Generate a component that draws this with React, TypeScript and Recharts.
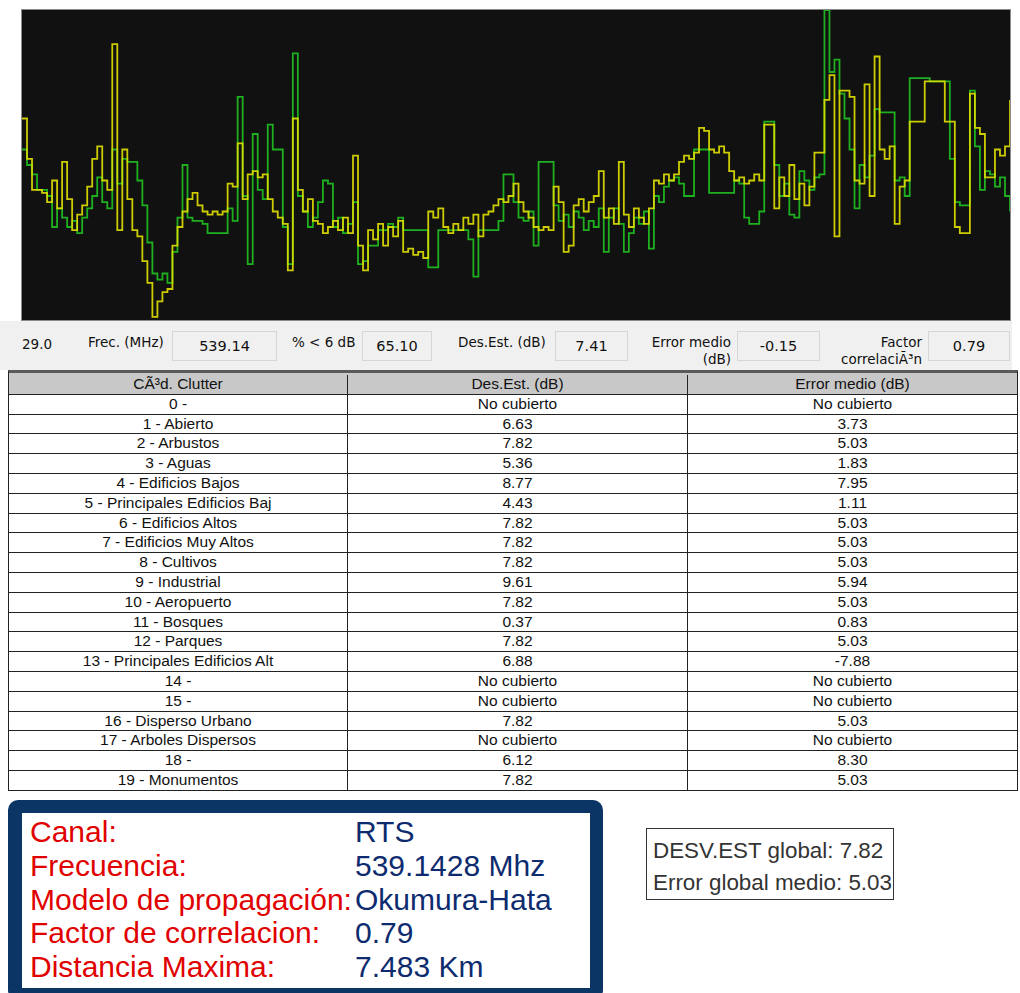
import { LineChart, Line, XAxis, YAxis } from 'recharts';

// perfil de nivel (0 = fondo, 100 = tope del gráfico), una muestra cada ~5 px de recorrido
const medido = [
  65, 52, 42, 42, 41, 38, 45, 36, 51, 39, 29, 34, 37, 43, 52, 56, 45, 42, 89, 29,
  55, 39, 29, 27, 19, 12, 1, 6, 9, 10, 24, 30, 35, 39, 41, 37, 35, 34, 35, 34,
  35, 44, 43, 57, 39, 47, 48, 46, 47, 39, 35, 33, 31, 16, 65, 42, 35, 39, 32, 31,
  28, 30, 32, 29, 33, 28, 53, 24, 16, 29, 26, 31, 24, 30, 27, 32, 22, 23, 21, 22,
  20, 35, 33, 36, 30, 28, 31, 29, 33, 31, 34, 27, 34, 35, 37, 39, 38, 40, 44, 38,
  35, 33, 30, 29, 30, 29, 43, 38, 22, 24, 37, 39, 35, 38, 40, 48, 33, 36, 31, 51,
  34, 30, 36, 33, 31, 36, 45, 44, 47, 45, 47, 51, 53, 52, 54, 62, 61, 55, 54, 56,
  54, 48, 45, 46, 44, 45, 47, 45, 63, 63, 36, 46, 40, 50, 39, 44, 37, 43, 54, 54,
  71, 79, 27, 74, 74, 72, 45, 44, 76, 40, 85, 55, 52, 56, 31, 43, 45, 64, 64, 64,
  77, 77, 77, 77, 64, 64, 30, 28, 28, 73, 62, 60, 46, 46, 55, 53, 56, 71,
];

const predicho = [
  55, 50, 47, 42, 42, 40, 30, 36, 33, 30, 32, 28, 33, 36, 40, 46, 38, 36, 55, 44,
  52, 51, 51, 45, 37, 25, 15, 13, 15, 12, 22, 33, 50, 33, 32, 32, 31, 28, 28, 28,
  28, 36, 32, 72, 40, 18, 60, 42, 39, 63, 55, 55, 30, 18, 86, 40, 35, 30, 33, 38,
  45, 44, 30, 33, 28, 31, 38, 18, 19, 24, 24, 29, 29, 31, 30, 33, 29, 29, 29, 29,
  29, 17, 17, 29, 29, 29, 29, 29, 29, 26, 14, 29, 29, 29, 29, 32, 47, 47, 38, 33,
  32, 35, 24, 51, 51, 51, 37, 32, 34, 30, 35, 33, 29, 32, 30, 36, 22, 33, 36, 31,
  22, 28, 33, 31, 35, 23, 40, 38, 43, 45, 46, 44, 40, 40, 55, 55, 55, 41, 41, 41,
  41, 41, 45, 44, 33, 31, 31, 35, 64, 64, 50, 40, 44, 34, 33, 48, 45, 42, 46, 47,
  100, 80, 84, 73, 65, 55, 36, 50, 46, 53, 68, 67, 67, 67, 45, 46, 40, 78, 78, 78,
  78, 77, 77, 77, 77, 52, 38, 37, 37, 74, 56, 42, 48, 47, 43, 46, 40, 35,
];

const clutter = [
  '0 -', '1 - Abierto', '2 - Arbustos', '3 - Aguas', '4 - Edificios Bajos',
  '5 - Principales Edificios Baj', '6 - Edificios Altos', '7 - Edificios Muy Altos',
  '8 - Cultivos', '9 - Industrial', '10 - Aeropuerto', '11 - Bosques', '12 - Parques',
  '13 - Principales Edificios Alt', '14 -', '15 -', '16 - Disperso Urbano',
  '17 - Arboles Dispersos', '18 -', '19 - Monumentos',
];
const desEst = [
  'No cubierto', '6.63', '7.82', '5.36', '8.77', '4.43', '7.82', '7.82', '7.82', '9.61',
  '7.82', '0.37', '7.82', '6.88', 'No cubierto', 'No cubierto', '7.82', 'No cubierto', '6.12', '7.82',
];
const errorMedio = [
  'No cubierto', '3.73', '5.03', '1.83', '7.95', '1.11', '5.03', '5.03', '5.03', '5.94',
  '5.03', '0.83', '5.03', '-7.88', 'No cubierto', 'No cubierto', '5.03', 'No cubierto', '8.30', '5.03',
];

const resumenEtiquetas = ['Canal:', 'Frecuencia:', 'Modelo de propagación:', 'Factor de correlacion:', 'Distancia Maxima:'];
const resumenValores = ['RTS', '539.1428 Mhz', 'Okumura-Hata', '0.79', '7.483 Km'];

const chartData = medido.map((v, i) => ({ x: i, medido: v, predicho: predicho[i] }));

const ROW_H = 19.8;
const COLS = [339, 340, 329];
const uiFont = '"DejaVu Sans", Verdana, sans-serif';
const tableFont = '"Liberation Sans", Arial, sans-serif';

function StatBox({ left, width, value }: { left: number; width: number; value: string }) {
  return (
    <div
      style={{
        position: 'absolute',
        left,
        top: 331,
        width,
        height: 30,
        boxSizing: 'border-box',
        border: '1px solid #d6d6d6',
        display: 'flex',
        alignItems: 'center',
        justifyContent: 'center',
        fontSize: 14.5,
      }}
    >
      {value}
    </div>
  );
}

function Label({ left, top, text, align }: { left: number; top: number; text: string; align?: 'right' }) {
  return (
    <div
      style={{
        position: 'absolute',
        left: align === 'right' ? undefined : left,
        right: align === 'right' ? 1020 - left : undefined,
        top,
        fontSize: 13.5,
        whiteSpace: 'nowrap',
        lineHeight: '17px',
      }}
    >
      {text}
    </div>
  );
}

function Row({ cells, header }: { cells: string[]; header?: boolean }) {
  return (
    <div style={{ display: 'flex', height: ROW_H, background: header ? '#c8c8c8' : '#fff' }}>
      {cells.map((c, i) => (
        <div
          key={i}
          style={{
            width: COLS[i],
            boxSizing: 'border-box',
            borderRight: i < 2 ? '1px solid #222' : 'none',
            borderBottom: '1px solid #222',
            textAlign: 'center',
            lineHeight: ROW_H - 1 + 'px',
            fontSize: 15.5,
            whiteSpace: 'nowrap',
            overflow: 'hidden',
            color: '#111',
          }}
        >
          {c}
        </div>
      ))}
    </div>
  );
}

export default function App() {
  return (
    <div style={{ position: 'relative', width: 1020, height: 993, overflow: 'hidden', background: '#fff', color: '#000' }}>
      <style>{'body{margin:0}'}</style>

      {/* gráfico de perfil */}
      <div style={{ position: 'absolute', left: 21, top: 9, width: 990, height: 312, boxSizing: 'border-box', border: '1px solid #8a8a8a', background: '#111' }}>
        <LineChart width={988} height={310} data={chartData} margin={{ top: 0, right: 0, bottom: 0, left: 0 }}>
          <XAxis dataKey="x" type="number" domain={[0, medido.length - 1]} hide />
          <YAxis type="number" domain={[0, 100]} hide />
          <Line type="stepAfter" dataKey="predicho" stroke="#1fb01f" strokeWidth={1.8} dot={false} isAnimationActive={false} />
          <Line type="stepAfter" dataKey="medido" stroke="#dcdc00" strokeWidth={1.8} strokeOpacity={0.92} dot={false} isAnimationActive={false} />
        </LineChart>
      </div>

      {/* barra de estadísticas */}
      <div style={{ position: 'absolute', left: 0, top: 321, width: 1012, height: 49, background: '#f0f0f0' }} />
      <div style={{ position: 'absolute', left: 0, top: 0, width: 1020, height: 993, fontFamily: uiFont, color: '#111' }}>
        <Label left={22} top={336} text="29.0" />
        <Label left={88} top={334} text="Frec. (MHz)" />
        <StatBox left={172} width={105} value="539.14" />
        <Label left={292} top={334} text="% < 6 dB" />
        <StatBox left={362} width={70} value="65.10" />
        <Label left={458} top={334} text="Des.Est. (dB)" />
        <StatBox left={555} width={73} value="7.41" />
        <Label left={731} top={334} text="Error medio" align="right" />
        <Label left={731} top={351} text="(dB)" align="right" />
        <StatBox left={737} width={83} value="-0.15" />
        <Label left={922} top={334} text="Factor" align="right" />
        <Label left={922} top={351} text="correlaciÃ³n" align="right" />
        <StatBox left={928} width={82} value="0.79" />
      </div>

      {/* tabla de clutter */}
      <div
        style={{
          position: 'absolute',
          left: 8,
          top: 370,
          width: 1010,
          boxSizing: 'border-box',
          borderTop: '3px solid #5a5a5a',
          borderLeft: '1px solid #222',
          borderRight: '1px solid #222',
          fontFamily: tableFont,
          paddingTop: 2,
          background: '#c8c8c8',
        }}
      >
        <Row header cells={['CÃ³d. Clutter', 'Des.Est. (dB)', 'Error medio (dB)']} />
        {clutter.map((c, i) => (
          <Row key={c} cells={[c, desEst[i], errorMedio[i]]} />
        ))}
      </div>

      {/* resumen */}
      <div
        style={{
          position: 'absolute',
          left: 8,
          top: 800,
          width: 595,
          height: 200,
          boxSizing: 'border-box',
          background: '#0b3565',
          borderRadius: 10,
          padding: '13px 13px 12px 14px',
        }}
      >
        <div style={{ background: '#fff', height: '100%', fontFamily: tableFont, fontSize: 30, position: 'relative' }}>
          {resumenEtiquetas.map((t, i) => (
            <div key={t} style={{ position: 'absolute', left: 8, top: 2 + i * 33.8, lineHeight: '34px', color: '#e00000', whiteSpace: 'nowrap' }}>
              {t}
            </div>
          ))}
          {resumenValores.map((t, i) => (
            <div key={t} style={{ position: 'absolute', left: 333, top: 2 + i * 33.8, lineHeight: '34px', color: '#0d2b6e', whiteSpace: 'nowrap' }}>
              {t}
            </div>
          ))}
        </div>
      </div>

      <div
        style={{
          position: 'absolute',
          left: 646,
          top: 828,
          width: 248,
          height: 72,
          boxSizing: 'border-box',
          border: '1.5px solid #333',
          fontFamily: tableFont,
          fontSize: 22.4,
          color: '#333',
          padding: '6px 0 0 6px',
          lineHeight: '32px',
        }}
      >
        <div>DESV.EST global: 7.82</div>
        <div>Error global medio: 5.03</div>
      </div>
    </div>
  );
}
